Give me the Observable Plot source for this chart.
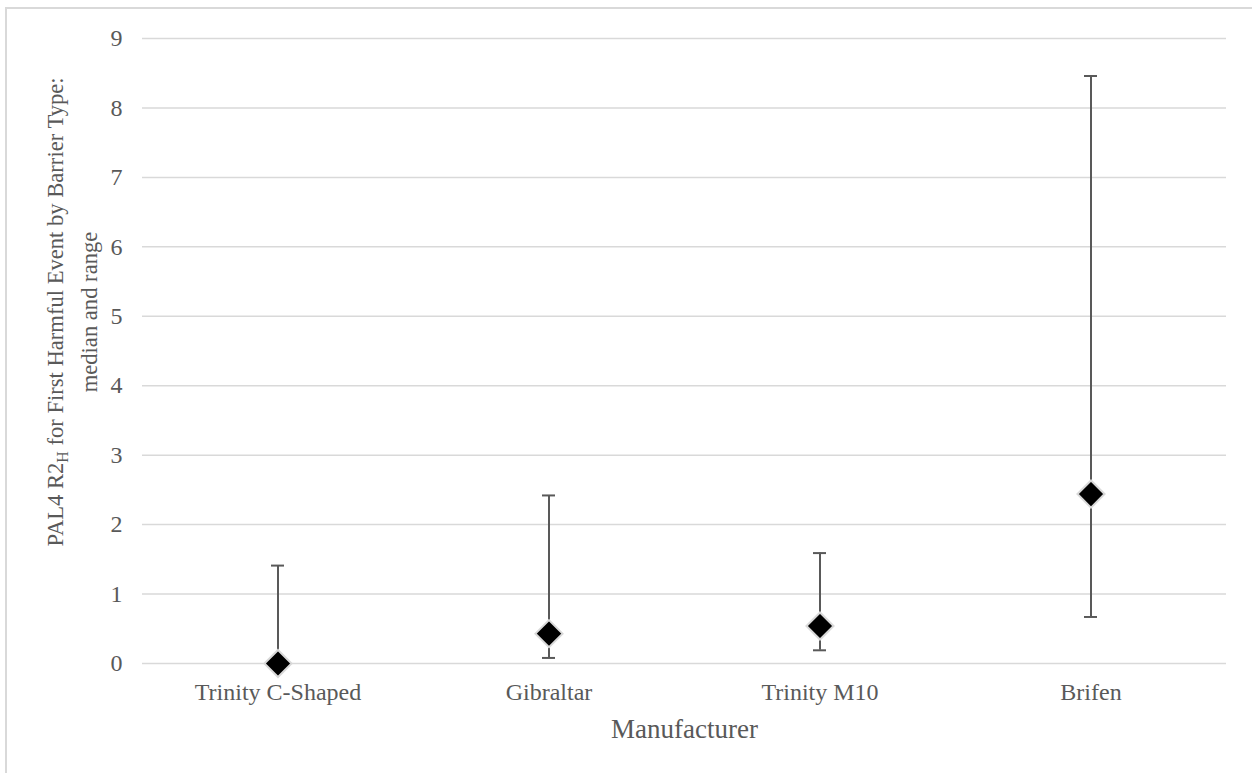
<!DOCTYPE html>
<html><head><meta charset="utf-8">
<script src="https://cdn.jsdelivr.net/npm/d3@7"></script>
<script src="https://cdn.jsdelivr.net/npm/@observablehq/plot@0.6"></script>
<style>
body{margin:0;background:#fff;}
#wrap{position:relative;width:1252px;height:773px;overflow:hidden;background:#fff;}
#frame{position:absolute;left:5px;top:7px;width:1400px;height:900px;border:2px solid #d9d9d9;box-sizing:border-box;}
#chart{position:absolute;left:0;top:0;}
#chart svg, #chart svg text{font-family:"Liberation Serif",serif !important;}
#ytitle{position:absolute;left:73px;top:312px;transform:translate(-50%,-50%) rotate(-90deg);white-space:nowrap;text-align:center;font-family:"Liberation Serif",serif;font-size:22.6px;color:#595959;line-height:34px;}
#ytitle sub{font-size:0.7em;vertical-align:-0.3em;line-height:0;}
</style></head>
<body>
<div id="wrap"><div id="frame"></div><div id="chart"></div>
<div id="ytitle">PAL4 R2<sub>H</sub> for First Harmful Event by Barrier Type:<br>median and range</div></div>
<script>
const manufacturers = ["Trinity C-Shaped", "Gibraltar", "Trinity M10", "Brifen"];
const medians = [0, 0.43, 0.54, 2.44];
const mins = [0, 0.08, 0.19, 0.67];
const maxs = [1.41, 2.42, 1.59, 8.46];
const yTicks = [0, 1, 2, 3, 4, 5, 6, 7, 8, 9];

const data = manufacturers.map((m, i) => ({m, median: medians[i], min: mins[i], max: maxs[i]}));
const barColor = "#595959";
const serif = "Liberation Serif, serif";

const chart = Plot.plot({
  width: 1252,
  height: 773,
  marginTop: 38,
  marginBottom: 110,
  marginLeft: 142,
  marginRight: 26,
  style: {fontFamily: serif, color: "#595959", background: "transparent"},
  x: {type: "band", domain: manufacturers, padding: 0, label: null},
  y: {domain: [0, 9], label: null},
  marks: [
    Plot.gridY(yTicks, {stroke: "#d9d9d9", strokeOpacity: 1, strokeWidth: 1.5}),
    Plot.axisY(yTicks, {tickSize: 0, tickPadding: 20, fontSize: 24, fontFamily: serif, tickFormat: d3.format("d"), label: null}),
    Plot.axisX({tickSize: 0, tickPadding: 19, fontSize: 24, fontFamily: serif, label: null}),
    Plot.ruleX(data, {x: "m", y1: "min", y2: "max", stroke: barColor, strokeWidth: 2}),
    Plot.tickY(data, {x: "m", y: "max", stroke: barColor, strokeWidth: 2, insetLeft: 129, insetRight: 129}),
    Plot.tickY(data, {x: "m", y: "min", stroke: barColor, strokeWidth: 2, insetLeft: 129, insetRight: 129}),
    Plot.dot(data, {x: "m", y: "median", symbol: "diamond2", r: 12.2, fill: "black", stroke: "#d9d9d9", strokeWidth: 2}),
    Plot.text(["Manufacturer"], {text: d => d, frameAnchor: "bottom", lineAnchor: "middle", dy: 66, fontSize: 27, fontFamily: serif, fill: "#595959"})
  ]
});
document.getElementById("chart").appendChild(chart);
</script>
</body></html>
